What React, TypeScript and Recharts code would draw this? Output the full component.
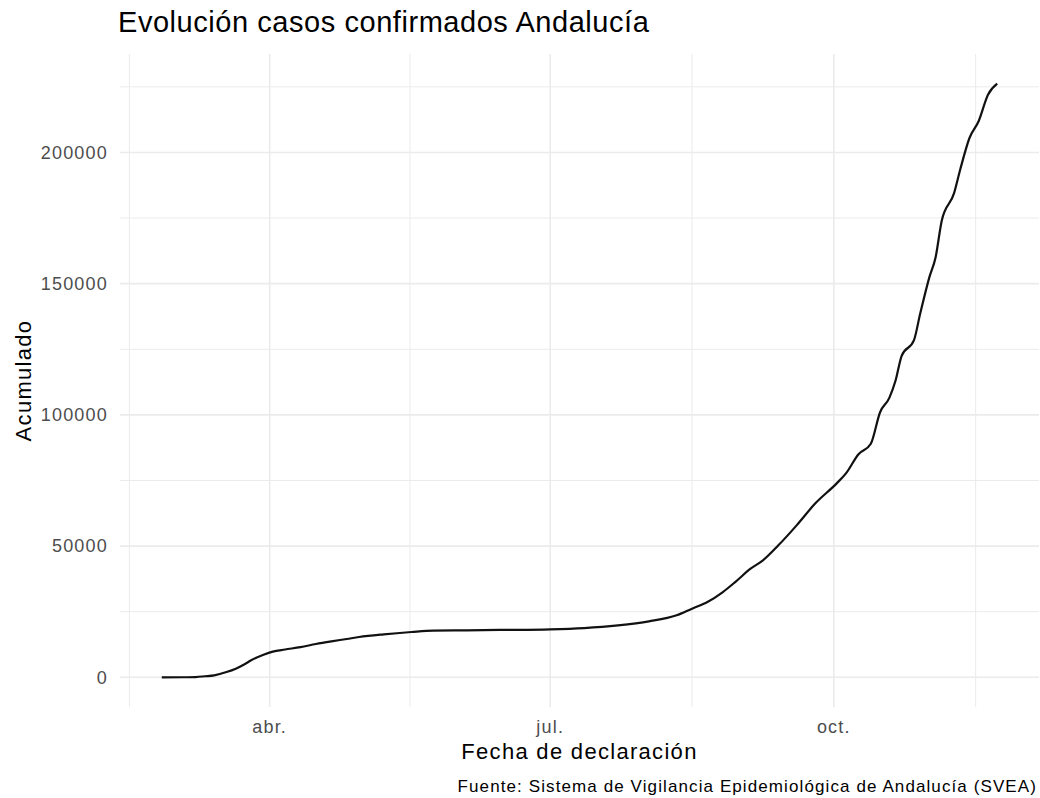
import { LineChart, Line, XAxis, YAxis, CartesianGrid, Label } from 'recharts';

// casos confirmados acumulados
const fechas = [
  '2020-02-26', '2020-03-04', '2020-03-08', '2020-03-11', '2020-03-14', '2020-03-18',
  '2020-03-21', '2020-03-24', '2020-03-26', '2020-03-30', '2020-04-02', '2020-04-06',
  '2020-04-11', '2020-04-16', '2020-04-21', '2020-04-26', '2020-04-30', '2020-05-08',
  '2020-05-17', '2020-05-24', '2020-06-04', '2020-06-15', '2020-07-01', '2020-07-12',
  '2020-07-23', '2020-08-02', '2020-08-11', '2020-08-16', '2020-08-21', '2020-08-26',
  '2020-08-30', '2020-09-04', '2020-09-08', '2020-09-13', '2020-09-19', '2020-09-25',
  '2020-10-02', '2020-10-05', '2020-10-09', '2020-10-13', '2020-10-16', '2020-10-19',
  '2020-10-21', '2020-10-23', '2020-10-27', '2020-10-29', '2020-11-01', '2020-11-03',
  '2020-11-05', '2020-11-09', '2020-11-11', '2020-11-14', '2020-11-17', '2020-11-20',
  '2020-11-23',
];

const acumulado = [
  0, 30, 100, 400, 760, 2000,
  3300, 5100, 6500, 8600, 9800, 10600,
  11500, 12700, 13700, 14600, 15350, 16380,
  17260, 17780, 17900, 18050, 18290, 18780,
  19810, 21330, 23620, 26170, 28700, 32500,
  36300, 41400, 44570, 50290, 58000, 66300,
  74000, 77800, 85000, 89000, 101000, 106500,
  113000, 122500, 128500, 138500, 152500, 160000,
  174000, 184500, 193500, 205500, 212000, 222000,
  226200,
];

const xTickDates = ['2020-04-01', '2020-07-01', '2020-10-01'];
const xTickLabels = ['abr.', 'jul.', 'oct.'];
const xMinorDates = ['2020-02-15T12:00:00Z', '2020-05-16T12:00:00Z', '2020-08-16', '2020-11-16'];
const yTicks = [0, 50000, 100000, 150000, 200000];
const yMinor = [25000, 75000, 125000, 175000, 225000];

const data = fechas.map((f, i) => ({ t: Date.parse(f), casos: acumulado[i] }));
const xTicks = xTickDates.map((d) => Date.parse(d));
const xMinor = xMinorDates.map((d) => Date.parse(d));

// expansión del 5% como ggplot
const tMin = data[0].t;
const tMax = data[data.length - 1].t;
const tPad = (tMax - tMin) * 0.05;
const yMax = Math.max(...acumulado);
const xDomain = [tMin - tPad, tMax + tPad];
const yDomain = [-yMax * 0.05, yMax * 1.05];

const FONT = '"Liberation Sans", Arial, Helvetica, sans-serif';
const GRID = '#ebebeb';

export default function App() {
  return (
    <div style={{ position: 'absolute', left: 0, top: 0, width: 1040, height: 798, background: '#fff', fontFamily: FONT }}>
      <div
        style={{
          position: 'absolute', left: 118, top: 8, fontSize: 29, lineHeight: '29px',
          letterSpacing: 0.55, color: '#000', whiteSpace: 'nowrap',
        }}
      >
        Evolución casos confirmados Andalucía
      </div>
      <LineChart width={1040} height={798} data={data} margin={{ top: 54, right: 1, bottom: 0, left: 0 }}>
        <CartesianGrid stroke={GRID} strokeWidth={1} verticalValues={xMinor} horizontalValues={yMinor} />
        <CartesianGrid stroke={GRID} strokeWidth={1.6} verticalValues={xTicks} horizontalValues={yTicks} />
        <XAxis
          dataKey="t"
          type="number"
          domain={xDomain}
          ticks={xTicks}
          interval={0}
          tickFormatter={(v) => xTickLabels[xTicks.indexOf(v)]}
          axisLine={false}
          tickLine={false}
          tickMargin={7}
          height={91}
          tick={{ fill: '#4d4d4d', fontSize: 18, letterSpacing: 1.2, fontFamily: FONT }}
        >
          <Label
            value="Fecha de declaración"
            position="insideBottom"
            offset={39}
            style={{ fill: '#000', fontSize: 22, letterSpacing: 1.3, fontFamily: FONT }}
          />
        </XAxis>
        <YAxis
          type="number"
          domain={yDomain}
          ticks={yTicks}
          interval={0}
          axisLine={false}
          tickLine={false}
          tickMargin={6}
          width={120}
          tick={{ fill: '#4d4d4d', fontSize: 18, letterSpacing: 1.2, fontFamily: FONT }}
        >
          <Label
            value="Acumulado"
            angle={-90}
            position="insideLeft"
            offset={23}
            style={{ textAnchor: 'middle', fill: '#000', fontSize: 22, letterSpacing: 1.3, fontFamily: FONT }}
          />
        </YAxis>
        <Line
          type="monotone"
          dataKey="casos"
          stroke="#111"
          strokeWidth={2.2}
          dot={false}
          isAnimationActive={false}
        />
      </LineChart>
      <div
        style={{
          position: 'absolute', right: 3, top: 778, fontSize: 17, lineHeight: '17px',
          letterSpacing: 1.1, color: '#000', whiteSpace: 'nowrap',
        }}
      >
        Fuente: Sistema de Vigilancia Epidemiológica de Andalucía (SVEA)
      </div>
    </div>
  );
}
